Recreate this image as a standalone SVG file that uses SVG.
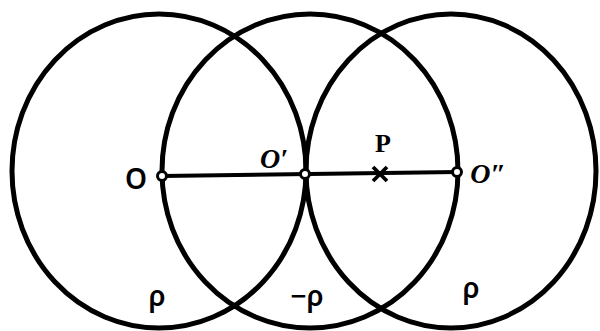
<svg xmlns="http://www.w3.org/2000/svg" width="600" height="331" viewBox="0 0 600 331">
<style>
.c{fill:none;stroke:#000;stroke-width:5}
.ln{stroke:#000;stroke-width:3.8;fill:none}
.pt{fill:#fff;stroke:#000;stroke-width:3}
.t{font-family:"Noto Sans","DejaVu Sans",sans-serif;font-weight:600;font-size:28px;fill:#000}
.i{font-family:"Liberation Serif",serif;font-style:italic;font-weight:bold;font-size:28px;fill:#000}
.s{font-family:"Liberation Serif",serif;font-weight:bold;font-size:26px;fill:#000}
</style>
<rect width="600" height="331" fill="#fff"/>
<g id="circle-left"><ellipse class="c" cx="159" cy="171" rx="147" ry="157"/></g>
<g id="circle-mid"><ellipse class="c" cx="310" cy="171" rx="148" ry="157"/></g>
<g id="circle-right"><ellipse class="c" cx="451" cy="171" rx="145" ry="157"/></g>
<g id="connectors">
<line class="ln" x1="162" y1="176" x2="457" y2="172"/>
<path class="ln" d="M373 167 L387 181 M387 167 L373 181" stroke-width="3.2"/>
</g>
<g id="O"><circle class="pt" cx="162" cy="176" r="4.5"/><text class="t" x="136" y="189" text-anchor="middle">O</text></g>
<g id="O1"><circle class="pt" cx="305" cy="174" r="4.5"/><text class="i" x="274" y="168" text-anchor="middle">O′</text></g>
<g id="O2"><circle class="pt" cx="457" cy="172" r="4.5"/><text class="i" x="488" y="183" text-anchor="middle">O″</text></g>
<g id="P"><text class="s" x="383" y="152" text-anchor="middle">P</text></g>
<text class="t" x="157" y="306" text-anchor="middle">ρ</text>
<text class="t" x="307" y="306" text-anchor="middle">−ρ</text>
<text class="t" x="471" y="298" text-anchor="middle">ρ</text>
</svg>
